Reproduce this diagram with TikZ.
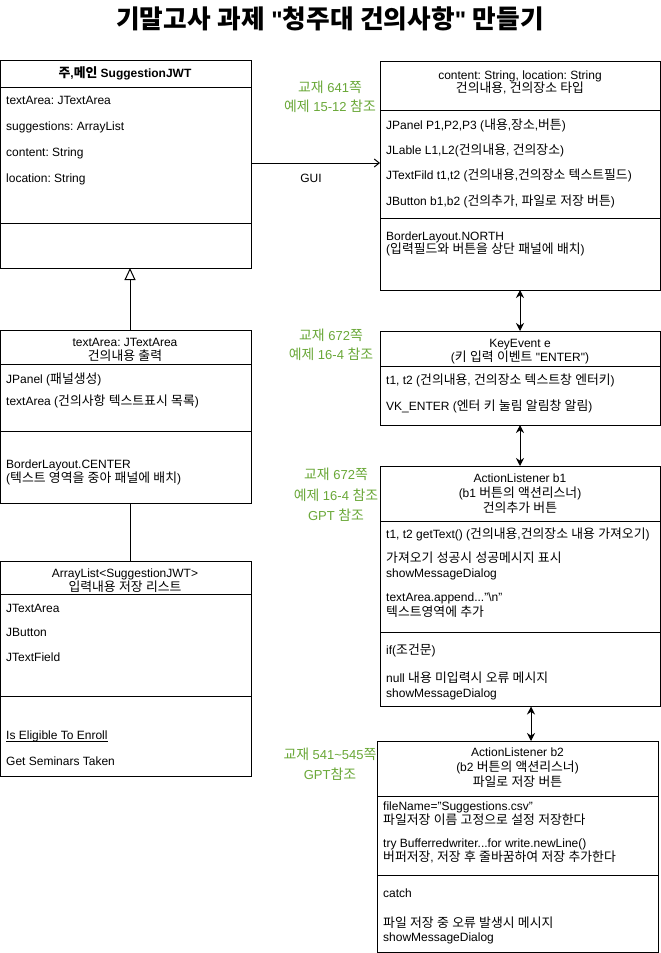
\documentclass[tikz,border=0pt]{standalone}
\usepackage{fontspec}
\setmainfont{Liberation Sans}
\newfontfamily\latinfam{Liberation Sans}
\newfontfamily\krfam{Noto Sans CJK KR}[Scale=1.07]
\usetikzlibrary{arrows.meta}
\definecolor{refgreen}{RGB}{106,168,56}
\newcount\krcnt
\newXeTeXintercharclass\krclass
\krcnt="AC00
\loop
  \XeTeXcharclass\krcnt=\krclass
\ifnum\krcnt<"D7A3 \advance\krcnt by 1 \repeat
\XeTeXinterchartoks 0 \krclass = {\krfam}
\XeTeXinterchartoks 4095 \krclass = {\krfam}
\XeTeXinterchartoks \krclass 0 = {\latinfam}
\XeTeXinterchartoks \krclass 4095 = {\latinfam}
\XeTeXinterchartokenstate=1
\begin{document}
\frenchspacing
\begin{tikzpicture}[x=1pt,y=-1pt,
  box/.style={draw, line width=1pt, anchor=north west, inner sep=0pt, outer sep=0pt},
  lt/.style={anchor=base west, inner sep=0pt, font=\fontsize{12}{14}\selectfont},
  ct/.style={anchor=base, inner sep=0pt, font=\fontsize{12}{14}\selectfont},
  gr/.style={anchor=base, inner sep=0pt, text=refgreen, font=\fontsize{13}{15}\selectfont},
  sepl/.style={line width=1pt},
  dbl/.style={{Stealth[length=8pt,width=8pt]}-{Stealth[length=8pt,width=8pt]}, line width=1pt},
  guiarrow/.style={-{Straight Barb[length=5pt,width=8pt]}, line width=1pt},
  inh/.style={-{Triangle[open,length=12pt,width=11pt,fill=white]}, line width=1pt}
]
\useasboundingbox (0,0) rectangle (661,953);
\fill[white] (0,0) rectangle (661,953);

% title
\node[anchor=base, inner sep=0pt, font=\fontsize{24}{28}\selectfont\bfseries] (title) at (330,28.5) {기말고사 과제 "청주대 건의사항" 만들기};

% ---------- left box 1 ----------
\node[box, minimum width=250.5pt, minimum height=208pt] (m1) at (0.5,60) {};
\draw[sepl] (0.5,87) -- (251,87);
\draw[sepl] (0.5,223) -- (251,223);
\node[ct, font=\fontsize{12}{14}\selectfont\bfseries] (m1h) at (125,77) {주,메인 SuggestionJWT};
\node[lt] (m1a) at (6,104) {textArea: JTextArea};
\node[lt] (m1b) at (6,130) {suggestions: ArrayList};
\node[lt] (m1c) at (6,156) {content: String};
\node[lt] (m1d) at (6,182) {location: String};

% ---------- left box 2 ----------
\node[box, minimum width=250.5pt, minimum height=173pt] (m2) at (0.5,330) {};
\draw[sepl] (0.5,364) -- (251,364);
\draw[sepl] (0.5,431) -- (251,431);
\node[ct] (m2h1) at (125,346) {textArea: JTextArea};
\node[ct] (m2h2) at (125,360) {건의내용 출력};
\node[lt] (m2a) at (6,383) {JPanel (패널생성)};
\node[lt] (m2b) at (6,405.5) {textArea (건의사항 텍스트표시 목록)};
\node[lt] (m2c) at (6,468) {BorderLayout.CENTER};
\node[lt] (m2d) at (6,482) {(텍스트 영역을 중아 패널에 배치)};

% ---------- left box 3 ----------
\node[box, minimum width=250.5pt, minimum height=215pt] (m3) at (0.5,561) {};
\draw[sepl] (0.5,594) -- (251,594);
\draw[sepl] (0.5,696) -- (251,696);
\node[ct] (m3h1) at (125,577.5) {ArrayList\textless SuggestionJWT\textgreater};
\node[ct] (m3h2) at (125,591) {입력내용 저장 리스트};
\node[lt] (m3a) at (6,612) {JTextArea};
\node[lt] (m3b) at (6,636) {JButton};
\node[lt] (m3c) at (6,661) {JTextField};
\node[lt] (m3d) at (6,739.5) {Is Eligible To Enroll};
\draw[line width=0.8pt] ([yshift=-2pt]m3d.base west) -- ([yshift=-2pt]m3d.base east);
\node[lt] (m3e) at (6,765.5) {Get Seminars Taken};

% ---------- right box 1 ----------
\node[box, minimum width=280pt, minimum height=229pt] (r1) at (380,61) {};
\draw[sepl] (380,110) -- (660,110);
\draw[sepl] (380,218) -- (660,218);
\node[ct] (r1h1) at (520,79) {content: String, location: String};
\node[ct] (r1h2) at (520,92) {건의내용, 건의장소 타입};
\node[lt] (r1a) at (386,129) {JPanel P1,P2,P3 (내용,장소,버튼)};
\node[lt] (r1b) at (386,154.5) {JLable L1,L2(건의내용, 건의장소)};
\node[lt] (r1c) at (386,179.5) {JTextFild t1,t2 (건의내용,건의장소 텍스트필드)};
\node[lt] (r1d) at (386,205) {JButton b1,b2 (건의추가, 파일로 저장 버튼)};
\node[lt] (r1e) at (386,240) {BorderLayout.NORTH};
\node[lt] (r1f) at (386,253) {(입력필드와 버튼을 상단 패널에 배치)};
\node[gr] (g1a) at (330,92.5) {교재 641쪽};
\node[gr] (g1b) at (330,111.5) {예제 15-12 참조};

% ---------- KeyEvent box ----------
\node[box, minimum width=280pt, minimum height=94pt] (k1) at (380,331) {};
\draw[sepl] (380,366) -- (660,366);
\node[ct] (k1h1) at (520,347) {KeyEvent e};
\node[ct] (k1h2) at (520,361) {(키 입력 이벤트 "ENTER")};
\node[lt] (k1a) at (386,384.5) {t1, t2 (건의내용, 건의장소 텍스트창 엔터키)};
\node[lt] (k1b) at (386,410.5) {VK\_ENTER (엔터 키 눌림 알림창 알림)};
\node[gr] (g2a) at (331,340.5) {교재 672쪽};
\node[gr] (g2b) at (331,359.5) {예제 16-4 참조};

% ---------- ActionListener b1 ----------
\node[box, minimum width=280pt, minimum height=240.5pt] (b1) at (380,466) {};
\draw[sepl] (380,521) -- (660,521);
\draw[sepl] (380,632) -- (660,632);
\node[ct] (b1h1) at (520,482) {ActionListener b1};
\node[ct] (b1h2) at (520,497) {(b1 버튼의 액션리스너)};
\node[ct] (b1h3) at (520,512) {건의추가 버튼};
\node[lt] (b1a) at (386,538) {t1, t2 getText() (건의내용,건의장소 내용 가져오기)};
\node[lt] (b1b) at (386,562.5) {가져오기 성공시 성공메시지 표시};
\node[lt] (b1c) at (386,577) {showMessageDialog};
\node[lt] (b1d) at (386,601.5) {textArea.append..."\textbackslash n"};
\node[lt] (b1e) at (386,616) {텍스트영역에 추가};
\node[lt] (b1f) at (386,654) {if(조건문)};
\node[lt] (b1g) at (386,682) {null 내용 미입력시 오류 메시지};
\node[lt] (b1h) at (386,697) {showMessageDialog};
\node[gr] (g3a) at (336,479.5) {교재 672쪽};
\node[gr] (g3b) at (336,500) {예제 16-4 참조};
\node[gr] (g3c) at (336,520) {GPT 참조};

% ---------- ActionListener b2 ----------
\node[box, minimum width=281pt, minimum height=211pt] (b2) at (377,741) {};
\draw[sepl] (377,796) -- (658,796);
\draw[sepl] (377,875) -- (658,875);
\node[ct] (b2h1) at (517.5,756) {ActionListener b2};
\node[ct] (b2h2) at (517.5,771) {(b2 버튼의 액션리스너)};
\node[ct] (b2h3) at (517.5,786) {파일로 저장 버튼};
\node[lt] (b2a) at (383,810) {fileName="Suggestions.csv"};
\node[lt] (b2b) at (383,824) {파일저장 이름 고정으로 설정 저장한다};
\node[lt] (b2c) at (383,847) {try Bufferredwriter...for write.newLine()};
\node[lt] (b2d) at (383,861) {버퍼저장, 저장 후 줄바꿈하여 저장 추가한다};
\node[lt] (b2e) at (383,897.5) {catch};
\node[lt] (b2f) at (383,927) {파일 저장 중 오류 발생시 메시지};
\node[lt] (b2g) at (383,941.5) {showMessageDialog};
\node[gr] (g4a) at (330,759.5) {교재 541\textasciitilde 545쪽};
\node[gr] (g4b) at (330,779.5) {GPT참조};

% ---------- connectors ----------
\coordinate (gy) at (0,163);
\coordinate (tx) at (130,0);
\coordinate (a3) at (531,0);
\draw[guiarrow] (m1.east |- gy) -- (r1.west |- gy);
\node[ct] (gui) at (311,182) {GUI};
\draw[inh] (m2.north -| tx) -- (m1.south -| tx);
\draw[sepl] (m2.south -| tx) -- (m3.north -| tx);
\draw[dbl] (r1.south) -- (k1.north);
\draw[dbl] (k1.south) -- (b1.north);
\draw[dbl] (b1.south -| a3) -- (b2.north -| a3);
\end{tikzpicture}
\end{document}
